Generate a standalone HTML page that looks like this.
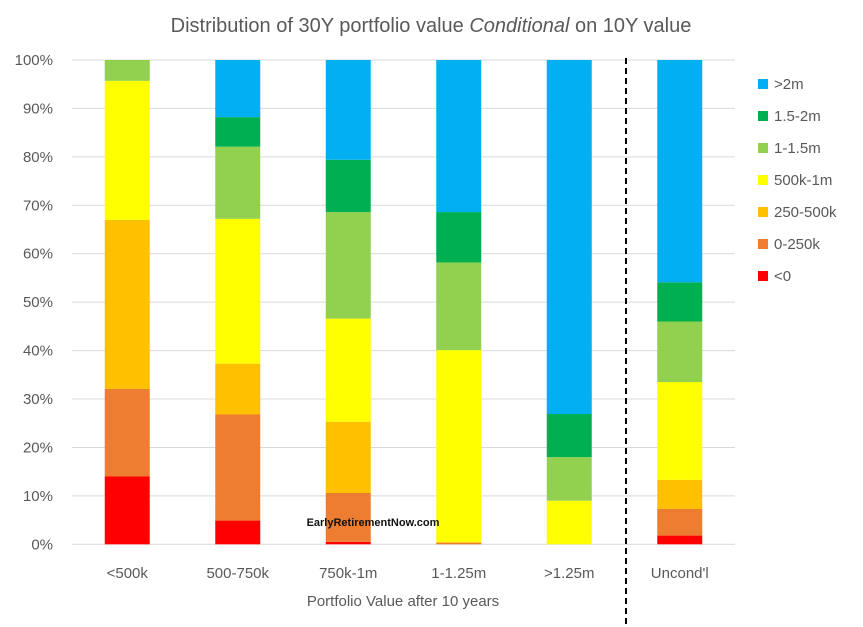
<!DOCTYPE html>
<html><head><meta charset="utf-8"><style>
body{margin:0;background:#fff;}
svg{display:block;font-family:"Liberation Sans",sans-serif;}
</style></head><body>
<svg id="chart" width="863" height="627">
<text x="431" y="32" text-anchor="middle" font-size="20" fill="#595959">Distribution of 30Y portfolio value <tspan font-style="italic">Conditional</tspan> on 10Y value</text>
<g id="grid"></g><g id="bars"></g><g id="labels"></g><g id="legend"></g>
<line x1="626" y1="58" x2="626" y2="627" stroke="#000" stroke-width="2" stroke-dasharray="6,4"/>
<text x="373" y="526" text-anchor="middle" font-size="11" font-weight="bold" fill="#111">EarlyRetirementNow.com</text>
<text x="403" y="606" text-anchor="middle" font-size="15" fill="#595959">Portfolio Value after 10 years</text>
</svg>
<script>
const categories=["<500k","500-750k","750k-1m","1-1.25m",">1.25m","Uncond'l"];
const seriesNames=["<0","0-250k","250-500k","500k-1m","1-1.5m","1.5-2m",">2m"];
const seriesColors=["#ff0000","#ed7d31","#ffc000","#ffff00","#92d050","#00b050","#00b0f0"];
const sNeg=[14.0,4.9,0.5,0,0,1.8];
const s0_250=[18.1,21.9,10.1,0.3,0,5.5];
const s250_500=[34.9,10.5,14.7,0.2,0,6.0];
const s500_1m=[28.7,29.9,21.3,39.6,9.0,20.2];
const s1_15=[4.3,14.9,22.0,18.1,9.0,12.5];
const s15_2=[0,6.1,10.8,10.4,8.9,8.1];
const s2m=[0,11.8,20.6,31.4,73.1,45.9];
const series=[sNeg,s0_250,s250_500,s500_1m,s1_15,s15_2,s2m];
const yTicks=[0,10,20,30,40,50,60,70,80,90,100];
const NS="http://www.w3.org/2000/svg";
const x0=72,x1=735,yTop=60,yBot=544.3;
const band=(x1-x0)/categories.length;
const X=i=>x0+band*(i+0.5);
const Y=v=>yBot-(yBot-yTop)*v/100;
const barW=45;
function mk(tag,attrs,parent){const e=document.createElementNS(NS,tag);for(const k in attrs)e.setAttribute(k,attrs[k]);document.getElementById(parent).appendChild(e);return e;}
yTicks.forEach(t=>{
  const l=mk("line",{x1:x0,x2:x1,y1:Y(t),y2:Y(t),stroke:"#d9d9d9","stroke-width":1},"grid");
  
  
  const tx=mk("text",{x:53,y:Y(t)+5,"text-anchor":"end","font-size":15,fill:"#595959"},"labels");
  tx.textContent=t+"%";
  
  
});
categories.forEach((c,i)=>{
  let cum=0;
  series.forEach((s,j)=>{
    const v=s[i];
    if(v>0){
      const r=mk("rect",{x:X(i)-barW/2,y:Y(cum+v),width:barW,height:Y(cum)-Y(cum+v),fill:seriesColors[j]},"bars");
      
      
    }
    cum+=v;
  });
  const tx=mk("text",{x:X(i),y:578,"text-anchor":"middle","font-size":15,fill:"#595959"},"labels");
  tx.textContent=c;
  
  
});
for(let j=seriesNames.length-1,k=0;j>=0;j--,k++){
  const yy=84+k*32;
  const r=mk("rect",{x:758,y:yy-5,width:10,height:10,fill:seriesColors[j]},"legend");
  
  
  const t=mk("text",{x:774,y:yy+5,"font-size":15,fill:"#595959"},"legend");
  t.textContent=seriesNames[j];
  
  
}
</script>
</body></html>
